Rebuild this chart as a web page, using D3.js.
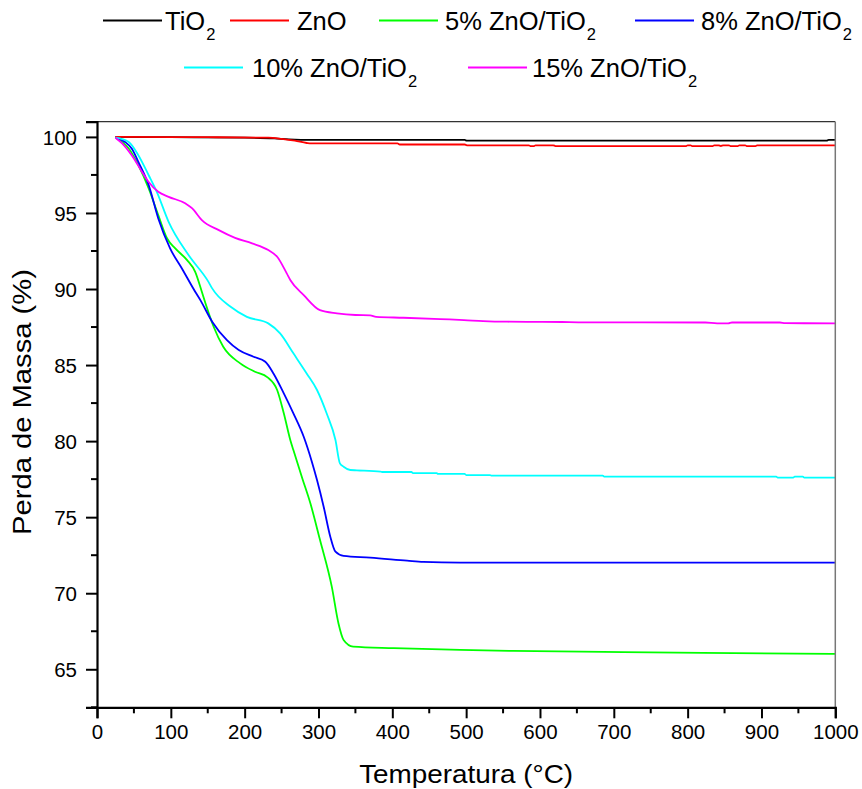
<!DOCTYPE html>
<html>
<head>
<meta charset="utf-8">
<script src="https://cdn.jsdelivr.net/npm/d3@7"></script>
<style>
  html, body { margin: 0; padding: 0; background: #fff; }
  svg { display: block; font-family: "Liberation Sans", Arial, sans-serif; }
</style>
</head>
<body>
<svg id="chart" width="862" height="789"></svg>
<script>
// Thermogravimetric curves: mass (%) against temperature (°C)
const seriesNames = ["TiO2", "ZnO", "5% ZnO/TiO2", "8% ZnO/TiO2", "10% ZnO/TiO2", "15% ZnO/TiO2"];
const seriesColors = ["#000000", "#ff0000", "#00ff00", "#0000ff", "#00ffff", "#ff00ff"];

const tio2 = [[25,100],[100,99.98],[200,99.95],[240,99.9],[260,99.84],[290,99.8],[498,99.8],[501,99.75],[988,99.75],[991,99.8],[1000,99.8]];

const zno = [[25,100],[150,99.98],[232,99.95],[250,99.87],[268,99.75],[284,99.6],[290,99.57],[407,99.57],[410,99.5],[498,99.5],[501,99.45],[585,99.45],[587,99.4],[592,99.4],[594,99.45],[618,99.45],[621,99.4],[798,99.4],[800,99.45],[804,99.45],[806,99.4],[834,99.4],[836,99.45],[842,99.45],[845,99.4],[848,99.45],[856,99.45],[858,99.4],[868,99.4],[870,99.45],[878,99.45],[880,99.4],[892,99.4],[894,99.44],[1000,99.44]];

const zno5 = [[25,99.95],[43,99.24],[56,98.14],[70,96.61],[83,94.86],[95,93.32],[106,92.67],[122,91.9],[133,91.13],[142,89.82],[147,89.05],[158,87.52],[171,86.2],[194,85.11],[214,84.56],[231,84.19],[244,83.36],[253,81.83],[262,80.04],[266,79.41],[278,77.56],[289,75.91],[302,73.51],[318,70.43],[327,68.03],[334,66.93],[347,66.49],[402,66.39],[492,66.27],[564,66.21],[686,66.14],[821,66.08],[1000,66.01]];

const zno8 = [[25,99.95],[38,99.67],[47,99.24],[56,98.36],[70,96.83],[83,94.64],[99,92.67],[115,91.35],[133,89.82],[140,89.27],[156,87.85],[176,86.64],[192,85.99],[212,85.55],[228,85.22],[239,84.45],[253,83.14],[266,81.83],[280,80.29],[291,78.65],[298,77.44],[307,75.69],[316,73.72],[323,72.73],[334,72.45],[370,72.34],[420,72.14],[442,72.06],[492,72.01],[1000,72.01]];

const zno10 = [[25,99.95],[43,99.67],[56,98.8],[70,97.48],[81,96.39],[97,94.42],[124,92.23],[151,90.47],[156,90.04],[181,88.83],[203,88.17],[232,87.74],[248,87.08],[266,85.77],[284,84.45],[298,83.36],[311,81.83],[323,80.07],[329,78.54],[334,78.32],[343,78.1],[352,78.08],[384,78.0],[386,77.97],[426,77.97],[428,77.9],[460,77.9],[462,77.84],[498,77.84],[500,77.77],[532,77.77],[534,77.73],[685,77.73],[687,77.66],[920,77.66],[922,77.6],[943,77.6],[945,77.66],[956,77.66],[958,77.6],[1000,77.6]];

const zno15 = [[25,99.95],[34,99.57],[47,98.8],[61,97.7],[70,97.04],[83,96.39],[97,96.06],[120,95.62],[129,95.3],[142,94.53],[165,93.87],[187,93.36],[210,93.0],[232,92.56],[244,92.12],[257,91.03],[262,90.58],[280,89.6],[302,88.61],[325,88.4],[350,88.29],[370,88.27],[378,88.17],[415,88.11],[465,88.02],[497,87.96],[523,87.89],[556,87.85],[630,87.83],[652,87.81],[824,87.8],[840,87.74],[855,87.74],[860,87.8],[925,87.8],[932,87.76],[1000,87.74]];

const seriesData = [tio2, zno, zno5, zno8, zno10, zno15];

const xTicks = [0, 100, 200, 300, 400, 500, 600, 700, 800, 900, 1000];
const yTicks = [65, 70, 75, 80, 85, 90, 95, 100];
const xDomain = [0, 1000];
const yDomain = [62.5, 101];

// legend text: main part and subscript
const legendMain = ["TiO", "ZnO", "5% ZnO/TiO", "8% ZnO/TiO", "10% ZnO/TiO", "15% ZnO/TiO"];
const legendSub = ["2", "", "2", "2", "2", "2"];

// ---- layout ----
const svg = d3.select("#chart");
const plot = { left: 97, top: 121.7, right: 835.3, bottom: 707.3 };

const x = d3.scaleLinear().domain(xDomain).range([plot.left, plot.right]);
const y = d3.scaleLinear().domain(yDomain).range([plot.bottom, plot.top]);

// curves
const line = d3.line()
  .x(d => x(d[0]))
  .y(d => y(d[1]))
  .curve(d3.curveMonotoneX);

svg.append("g")
  .selectAll("path")
  .data(seriesData)
  .join("path")
  .attr("fill", "none")
  .attr("stroke", (d, i) => seriesColors[i])
  .attr("stroke-width", 1.8)
  .attr("stroke-linejoin", "round")
  .attr("d", line);

// frame: top and right edges
svg.append("line")
  .attr("x1", plot.left).attr("x2", plot.right)
  .attr("y1", plot.top).attr("y2", plot.top)
  .attr("stroke", "#333").attr("stroke-width", 1.3);
svg.append("line")
  .attr("x1", plot.right).attr("x2", plot.right)
  .attr("y1", plot.top).attr("y2", plot.bottom)
  .attr("stroke", "#777").attr("stroke-width", 1.5);

// minor ticks
const xMinor = d3.range(50, 1000, 100);
const yMinor = d3.range(62.5, 101, 5);

const xAxis = d3.axisBottom(x).tickValues(xTicks).tickFormat(d3.format("d")).tickSize(11).tickPadding(6);
const yAxis = d3.axisLeft(y).tickValues(yTicks).tickFormat(d3.format("d")).tickSize(11).tickPadding(9);

const gx = svg.append("g").attr("transform", `translate(0,${plot.bottom})`).call(xAxis);
gx.append("g").selectAll("line").data(xMinor).join("line")
  .attr("x1", d => x(d)).attr("x2", d => x(d))
  .attr("y1", 0).attr("y2", 6)
  .attr("stroke", "#000").attr("stroke-width", 2);

const gy = svg.append("g").attr("transform", `translate(${plot.left},0)`).call(yAxis);
gy.append("g").selectAll("line").data(yMinor).join("line")
  .attr("x1", 0).attr("x2", -6)
  .attr("y1", d => y(d)).attr("y2", d => y(d))
  .attr("stroke", "#000").attr("stroke-width", 2);

[gx, gy].forEach(g => {
  g.select(".domain").attr("stroke", "#000").attr("stroke-width", 2.2);
  g.selectAll(".tick line").attr("stroke", "#000").attr("stroke-width", 2);
  g.selectAll(".tick text")
    .attr("fill", "#000")
    .style("font-family", "\"Liberation Sans\", Arial, sans-serif")
    .style("font-size", "20.5px");
});
gx.selectAll(".tick text").attr("dy", "0.72em");
gy.selectAll(".tick text").attr("dy", "0.36em");

// axis titles
svg.append("text")
  .attr("x", (plot.left + plot.right) / 2)
  .attr("y", 783)
  .attr("text-anchor", "middle")
  .attr("font-size", 25)
  .attr("textLength", 214)
  .attr("lengthAdjust", "spacingAndGlyphs")
  .text("Temperatura (°C)");

svg.append("text")
  .attr("transform", `translate(31,402) rotate(-90)`)
  .attr("text-anchor", "middle")
  .attr("font-size", 25)
  .attr("textLength", 266)
  .attr("lengthAdjust", "spacingAndGlyphs")
  .text("Perda de Massa (%)");

// legend, two centred rows
const legendRows = [[0, 1, 2, 3], [4, 5]];
const rowLineStarts = [[103, 230, 379, 635], [184, 468]];
const rowTextStarts = [[165, 297, 445, 701], [252, 532]];
const rowBaseline = [29.5, 76.5];
const rowLineY = [20.5, 67.5];
const lineLen = 59;

const lg = svg.append("g");
legendRows.forEach((row, r) => {
  row.forEach((si, k) => {
    const x0 = rowLineStarts[r][k];
    lg.append("line")
      .attr("x1", x0).attr("x2", x0 + lineLen)
      .attr("y1", rowLineY[r]).attr("y2", rowLineY[r])
      .attr("stroke", seriesColors[si]).attr("stroke-width", 1.8);
    const t = lg.append("text")
      .attr("x", rowTextStarts[r][k])
      .attr("y", rowBaseline[r])
      .attr("font-size", 25.5)
      .attr("fill", "#000");
    t.append("tspan").text(legendMain[si]);
    if (legendSub[si]) {
      t.append("tspan").attr("font-size", 16.5).attr("dy", 10.5).attr("dx", 1).text(legendSub[si]);
    }
  });
});
</script>
</body>
</html>
